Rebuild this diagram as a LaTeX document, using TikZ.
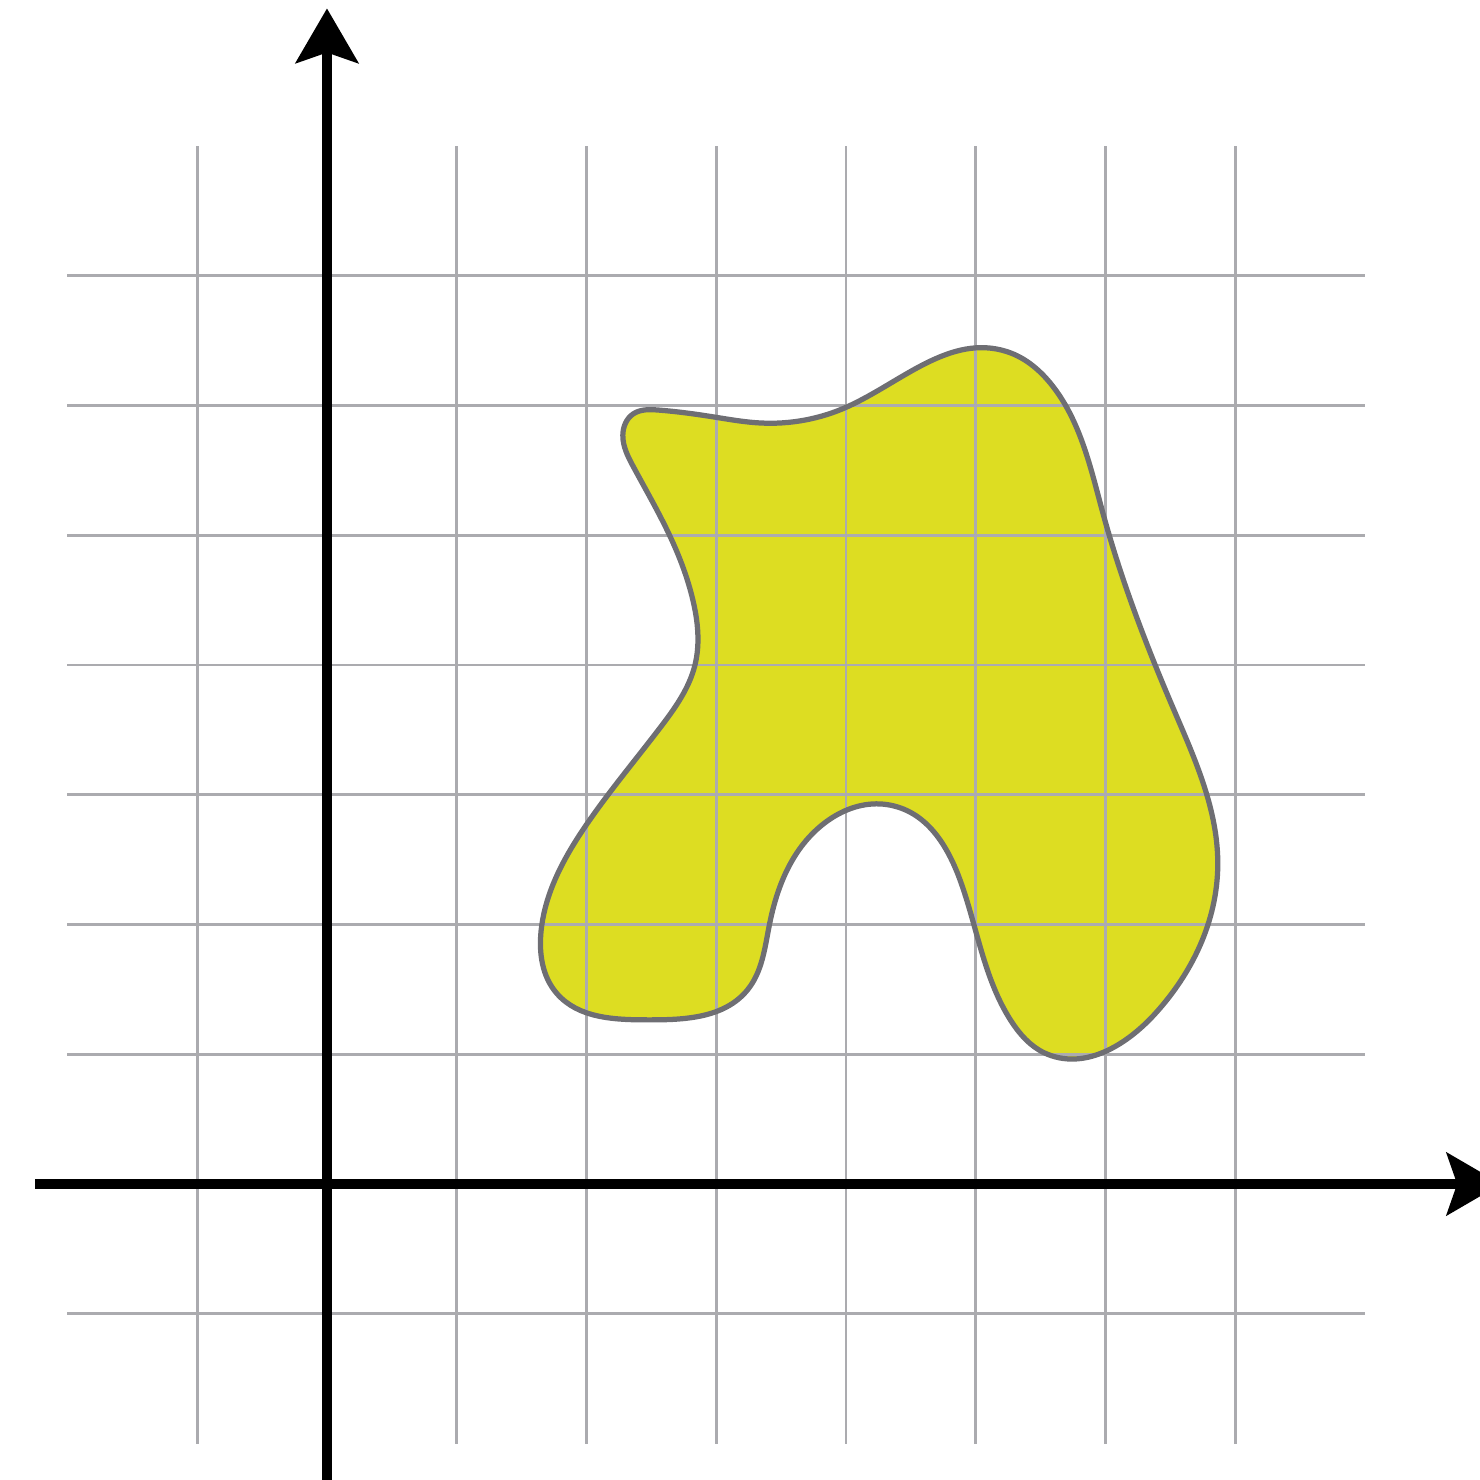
\documentclass[tikz,border=0pt]{standalone}
\usepackage{tikz}
\usetikzlibrary{arrows.meta,hobby}

\begin{document}
\begin{tikzpicture}[x=1cm, y=1cm,
    gridline/.style={draw=gridgray, line width=0.65pt},
    axis/.style={line width=2.2pt, -{Stealth[length=0.42cm, width=0.48cm, inset=0.08cm]}},
    blob/.style={draw=blobline, line width=1.15pt, line join=round},
]

% Colors
\definecolor{gridgray}{HTML}{ABABAF}
\definecolor{blobline}{HTML}{6E6E73}
\definecolor{blobfill}{HTML}{DDDD22}

\useasboundingbox (-2.52,-2.274) rectangle (8.886,9.125);

% === Region fill ===
\fill[blobfill] plot[closed hobby] coordinates {
  (2.28,5.77) (2.36,5.935) (2.55,5.965) (2.99,5.91) (3.34,5.865)
  (4.01,5.99) (5.24,6.415) (5.60,6.14) (5.98,5.17) (6.52,3.67)
  (6.865,2.45) (6.38,1.31) (5.53,1.01) (5.27,1.26) (4.88,2.34)
  (4.40,2.905) (3.62,2.55) (3.41,2.00) (3.24,1.495) (2.47,1.265)
  (1.77,1.47) (1.65,1.95) (2.00,2.77) (2.57,3.52) (2.836,4.00)
  (2.82,4.50) (2.64,5.00) (2.36,5.53)};

% === Grid ===
\foreach \x in {-1,...,7}
  \draw[gridline] (\x,-2) -- (\x,8);
\foreach \y in {-1,...,7}
  \draw[gridline] (-2,\y) -- (8,\y);

% === Region outline ===
\draw[blob] plot[closed hobby] coordinates {
  (2.28,5.77) (2.36,5.935) (2.55,5.965) (2.99,5.91) (3.34,5.865)
  (4.01,5.99) (5.24,6.415) (5.60,6.14) (5.98,5.17) (6.52,3.67)
  (6.865,2.45) (6.38,1.31) (5.53,1.01) (5.27,1.26) (4.88,2.34)
  (4.40,2.905) (3.62,2.55) (3.41,2.00) (3.24,1.495) (2.47,1.265)
  (1.77,1.47) (1.65,1.95) (2.00,2.77) (2.57,3.52) (2.836,4.00)
  (2.82,4.50) (2.64,5.00) (2.36,5.53)};

% === Axes ===
\coordinate (O) at (0,0);
\coordinate (xend) at (9.05,0);
\coordinate (yend) at (0,9.06);
\draw[axis] (-2.25,0) -- (xend);
\draw[axis] (0,-2.35) -- (yend);
\end{tikzpicture}
\end{document}
